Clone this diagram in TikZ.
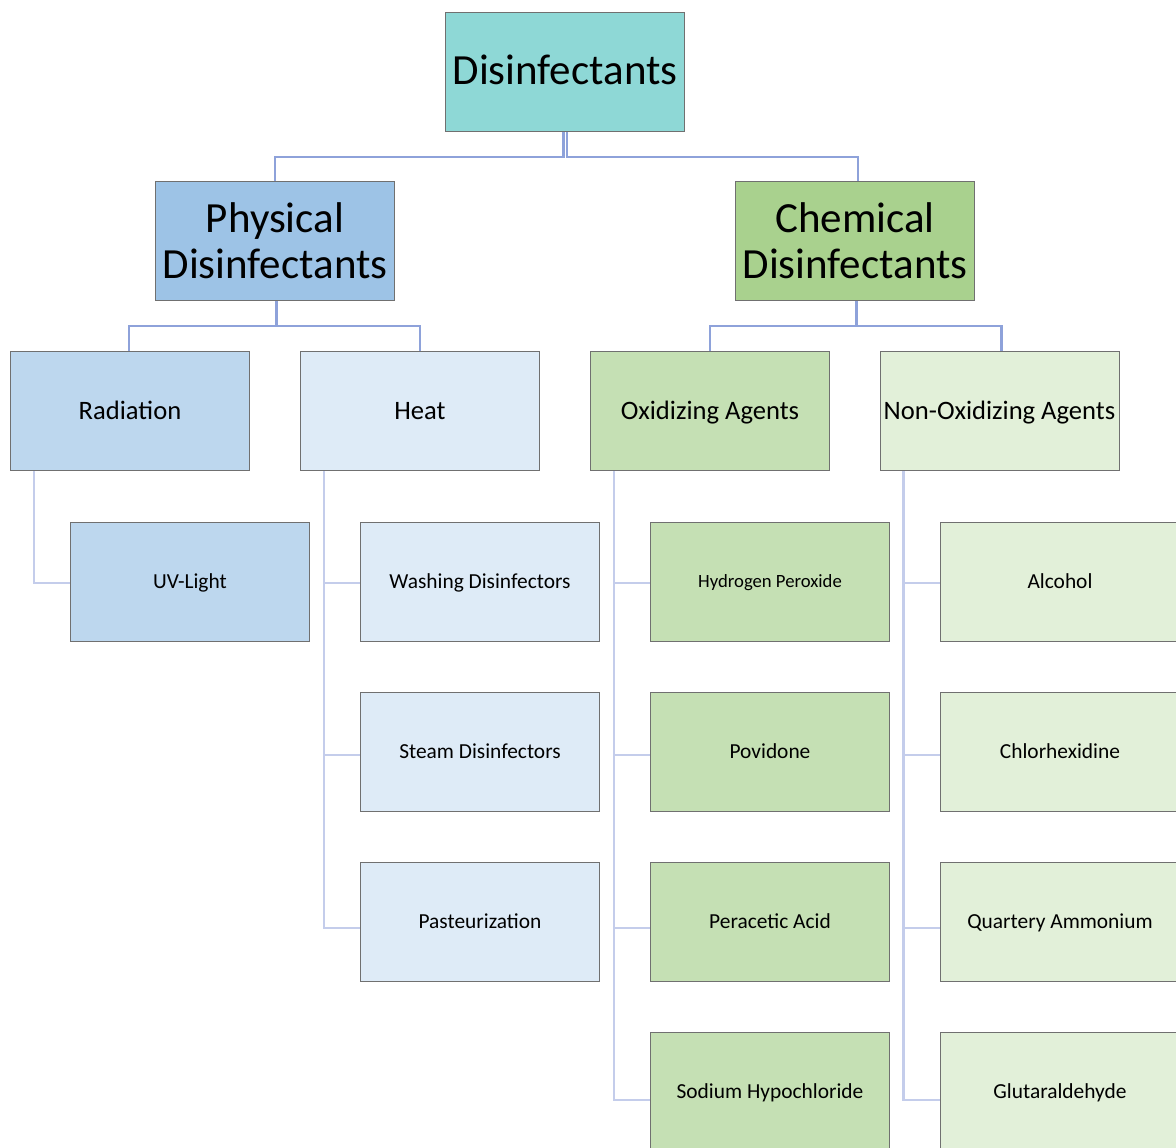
\documentclass[tikz,border=0pt]{standalone}
\usepackage{fontspec}
\setmainfont{Carlito}
\definecolor{rootfill}{RGB}{142,216,214}
\definecolor{physfill}{RGB}{157,195,230}
\definecolor{chemfill}{RGB}{169,209,142}
\definecolor{radfill}{RGB}{189,215,238}
\definecolor{heatfill}{RGB}{222,235,247}
\definecolor{oxifill}{RGB}{197,224,180}
\definecolor{nonfill}{RGB}{226,240,217}
\definecolor{boxline}{RGB}{112,112,112}
\definecolor{linkmain}{RGB}{142,162,218}
\definecolor{linkleaf}{RGB}{196,205,235}
\tikzset{
  boxbase/.style={draw=boxline, line width=1pt, minimum width=239pt, minimum height=119pt,
    inner sep=0pt},
  % single-line boxes: fixed line metrics so every label sits at the same baseline
  orgbox/.style={boxbase, text height=18.6pt, text depth=5.35pt,
    font=\fontsize{21.4}{25}\selectfont},
  smallbox/.style={boxbase, text height=16.3pt, text depth=4.7pt,
    font=\fontsize{18.7}{22}\selectfont},
  midbox/.style={boxbase, text height=23.1pt, text depth=6.65pt,
    font=\fontsize{26.6}{31}\selectfont},
  rootbox/.style={boxbase, text height=36.5pt, text depth=10.75pt,
    font=\fontsize{43}{46}\selectfont},
  % two-line headings
  bigbox/.style={boxbase, align=center, font=\fontsize{43}{46}\selectfont},
  mainlink/.style={draw=linkmain, line width=2.2pt},
  stemlink/.style={draw=linkmain, line width=3pt},
  leaflink/.style={draw=linkleaf, line width=2.2pt},
}
\begin{document}
\begin{tikzpicture}[x=1pt,y=-1pt]
\useasboundingbox (0,0) rectangle (1176,1148);
\clip (0,0) rectangle (1176,1148);

% top level
\node[rootbox, fill=rootfill] (root) at (565,72) {Disinfectants};
\node[bigbox, fill=physfill] (phys) at (275,241) {Physical\\Disinfectants};
\node[bigbox, fill=chemfill] (chem) at (855,241) {Chemical\\Disinfectants};

% second level
\node[midbox, fill=radfill] (rad) at (130,411) {Radiation};
\node[midbox, fill=heatfill] (heat) at (420,411) {Heat};
\node[midbox, fill=oxifill] (oxi) at (710,411) {Oxidizing Agents};
\node[midbox, fill=nonfill] (non) at (999.5,411) {Non-Oxidizing Agents};

% leaves
\node[orgbox, fill=radfill] (uv) at (190,581.5) {UV-Light};
\node[orgbox, fill=heatfill] (wash) at (480,581.5) {Washing Disinfectors};
\node[orgbox, fill=heatfill] (steam) at (480,751.5) {Steam Disinfectors};
\node[orgbox, fill=heatfill] (past) at (480,921.5) {Pasteurization};
\node[smallbox, fill=oxifill] (hyd) at (770,581.5) {Hydrogen Peroxide};
\node[orgbox, fill=oxifill] (pov) at (770,751.5) {Povidone};
\node[orgbox, fill=oxifill] (per) at (770,921.5) {Peracetic Acid};
\node[orgbox, fill=oxifill] (sod) at (770,1091.5) {Sodium Hypochloride};
\node[orgbox, fill=nonfill] (alc) at (1060,581.5) {Alcohol};
\node[orgbox, fill=nonfill] (chl) at (1060,751.5) {Chlorhexidine};
\node[orgbox, fill=nonfill] (qua) at (1060,921.5) {Quartery Ammonium};
\node[orgbox, fill=nonfill] (glu) at (1060,1091.5) {Glutaraldehyde};

% links between levels
\draw[mainlink] ([xshift=-1.6pt]root.south) -- ++(0,25) -| (phys.north);
\draw[mainlink] ([xshift=1.6pt]root.south) -- ++(0,25) -| ([xshift=3pt]chem.north);
\draw[stemlink] ([xshift=1pt]phys.south) -- ++(0,25);
\draw[mainlink] ([xshift=1pt]phys.south) -- ++(0,25) -| ([xshift=-1pt]rad.north);
\draw[mainlink] ([xshift=1pt]phys.south) -- ++(0,25) -| (heat.north);
\draw[stemlink] ([xshift=1pt]chem.south) -- ++(0,25);
\draw[mainlink] ([xshift=1pt]chem.south) -- ++(0,25) -| (oxi.north);
\draw[mainlink] ([xshift=1pt]chem.south) -- ++(0,25) -| ([xshift=2pt]non.north);

% links to leaves, each one meeting its box a little lower than the last
\draw[leaflink] ([xshift=24pt]rad.south west) |- ([yshift=-1.5pt]uv.west);
\foreach \leaf/\dy in {wash/1.5,steam/3.5,past/6.3}
  \draw[leaflink] ([xshift=24pt]heat.south west) |- ([yshift=-\dy pt]\leaf.west);
\foreach \leaf/\dy in {hyd/1.5,pov/3.5,per/6.3,sod/8.5}
  \draw[leaflink] ([xshift=24pt]oxi.south west) |- ([yshift=-\dy pt]\leaf.west);
\foreach \leaf/\dy in {alc/1.5,chl/3.5,qua/6.3,glu/8.5}
  \draw[leaflink] ([xshift=24pt]non.south west) |- ([yshift=-\dy pt]\leaf.west);
\end{tikzpicture}
\end{document}
